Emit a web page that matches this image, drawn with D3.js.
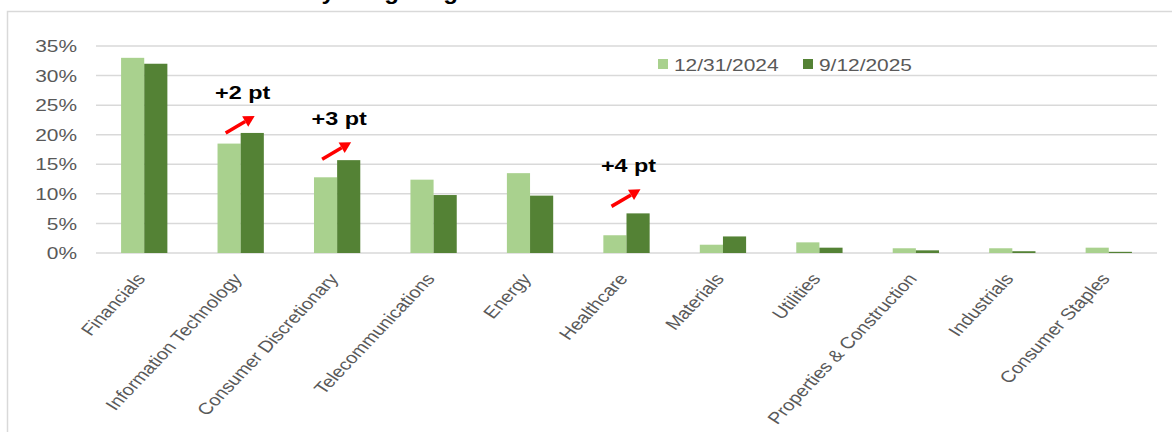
<!DOCTYPE html>
<html>
<head>
<meta charset="utf-8">
<script src="https://cdn.jsdelivr.net/npm/d3@7"></script>
<style>
  body { margin: 0; background: #fff; }
  svg { display: block; font-family: Arial, "Liberation Sans", sans-serif; }
</style>
</head>
<body>
<div class="chart"></div>
<script>
const categories = ['Financials', 'Information Technology', 'Consumer Discretionary',
  'Telecommunications', 'Energy', 'Healthcare', 'Materials', 'Utilities',
  'Properties & Construction', 'Industrials', 'Consumer Staples'];
const seriesNames = ['12/31/2024', '9/12/2025'];
const weights2024 = [33.0, 18.5, 12.8, 12.4, 13.5, 3.0, 1.4, 1.8, 0.8, 0.8, 0.9];
const weights2025 = [32.0, 20.3, 15.7, 9.8, 9.7, 6.7, 2.8, 0.9, 0.45, 0.3, 0.2];
const yTicks = [0, 5, 10, 15, 20, 25, 30, 35];
const annotations = [
  {category: 'Information Technology', label: '+2 pt', lift: 0},
  {category: 'Consumer Discretionary', label: '+3 pt', lift: 1},
  {category: 'Healthcare', label: '+4 pt', lift: 7}
];
const titleText = 'Industry Weighting';

function drawChart() {
  const width = 1172;
  const height = 432;
  const margin = {top: 46, right: 15, bottom: 179, left: 96};
  const colors = ['#a9d18e', '#548235'];
  const textColor = '#595959';
  const stretch = 1.23;

  const svg = d3.select('.chart')
                .append('svg:svg')
                .attr('width', width)
                .attr('height', height)
                .attr('viewBox', [0, 0, width, height]);

  // frame
  svg.append('rect')
     .attr('x', 7.5).attr('y', 11.5)
     .attr('width', 1300).attr('height', 600)
     .attr('fill', 'none')
     .attr('stroke', '#d9d9d9')
     .attr('stroke-width', 1.5);

  // title, sits above the visible area (only descenders show)
  svg.append('text')
     .attr('transform', 'translate(458,-1) scale(1.1,1)')
     .attr('text-anchor', 'end')
     .attr('font-weight', 'bold')
     .attr('font-size', 22)
     .attr('fill', '#000')
     .text(titleText);

  const x0 = d3.scaleBand()
               .domain(categories)
               .range([margin.left, width - margin.right])
               .paddingInner(0.52)
               .paddingOuter(0.26);

  const x1 = d3.scaleBand()
               .domain(seriesNames)
               .range([0, x0.bandwidth()]);

  const y = d3.scaleLinear()
              .domain([0, 35])
              .range([height - margin.bottom, margin.top]);

  // gridlines
  svg.append('g')
     .selectAll('line')
     .data(yTicks)
     .enter().append('line')
     .attr('x1', margin.left)
     .attr('x2', width - margin.right)
     .attr('y1', d => y(d))
     .attr('y2', d => y(d))
     .attr('stroke', '#d9d9d9')
     .attr('stroke-width', 1.5);

  // y labels
  svg.append('g')
     .selectAll('text')
     .data(yTicks)
     .enter().append('text')
     .attr('transform', d => `translate(77,${y(d)}) scale(${stretch},1)`)
     .attr('dy', '0.36em')
     .attr('text-anchor', 'end')
     .attr('font-size', 17)
     .attr('fill', textColor)
     .text(d => d + '%');

  const rows = categories.map((c, i) => ({category: c, values: [weights2024[i], weights2025[i]]}));

  const groups = svg.append('g')
     .selectAll('g')
     .data(rows)
     .enter().append('g')
     .attr('transform', d => `translate(${x0(d.category)},0)`);

  groups.selectAll('rect')
     .data(d => d.values.map((v, j) => ({name: seriesNames[j], value: v, j: j})))
     .enter().append('rect')
     .attr('x', d => x1(d.name))
     .attr('y', d => y(d.value))
     .attr('width', x1.bandwidth())
     .attr('height', d => y(0) - y(d.value))
     .attr('fill', d => colors[d.j]);

  // category labels
  svg.append('g')
     .selectAll('text')
     .data(categories)
     .enter().append('text')
     .attr('transform', d => `translate(${x0(d) + x0.bandwidth() / 2 + 2},${y(0) + 26}) scale(${stretch},1) rotate(-52)`)
     .attr('text-anchor', 'end')
     .attr('font-size', 16.3)
     .attr('fill', textColor)
     .text(d => d);

  // legend
  const legend = svg.append('g')
     .selectAll('g')
     .data(seriesNames)
     .enter().append('g')
     .attr('transform', (d, i) => `translate(${658 + i * 145},59)`);

  legend.append('rect')
     .attr('width', 10).attr('height', 10)
     .attr('fill', (d, i) => colors[i]);

  legend.append('text')
     .attr('transform', `translate(16,12) scale(${stretch},1)`)
     .attr('font-size', 17)
     .attr('fill', textColor)
     .text(d => d);

  // annotations
  const arrowColor = '#ff0000';
  const ann = svg.append('g')
     .selectAll('g')
     .data(annotations)
     .enter().append('g')
     .attr('transform', d => {
       const i = categories.indexOf(d.category);
       const cx = x0(d.category) + x0.bandwidth() / 2;
       return `translate(${cx},${y(weights2025[i]) - d.lift})`;
     });

  ann.append('text')
     .attr('transform', `translate(2,-34) scale(${stretch},1)`)
     .attr('text-anchor', 'middle')
     .attr('font-weight', 'bold')
     .attr('font-size', 19)
     .attr('fill', '#000')
     .text(d => d.label);

  const tail = [-15, 0];
  const tip = [14, -17];
  const ang = Math.atan2(tip[1] - tail[1], tip[0] - tail[0]);
  const headLen = 11;
  const headW = 6;
  const base = [tip[0] - headLen * Math.cos(ang), tip[1] - headLen * Math.sin(ang)];

  ann.append('line')
     .attr('x1', tail[0]).attr('y1', tail[1])
     .attr('x2', base[0]).attr('y2', base[1])
     .attr('stroke', arrowColor)
     .attr('stroke-width', 3.5);

  ann.append('polygon')
     .attr('points', [
       tip,
       [base[0] + headW * Math.sin(ang), base[1] - headW * Math.cos(ang)],
       [base[0] - headW * Math.sin(ang), base[1] + headW * Math.cos(ang)]
     ].map(p => p.join(',')).join(' '))
     .attr('fill', arrowColor);
}

drawChart();
</script>
</body>
</html>
